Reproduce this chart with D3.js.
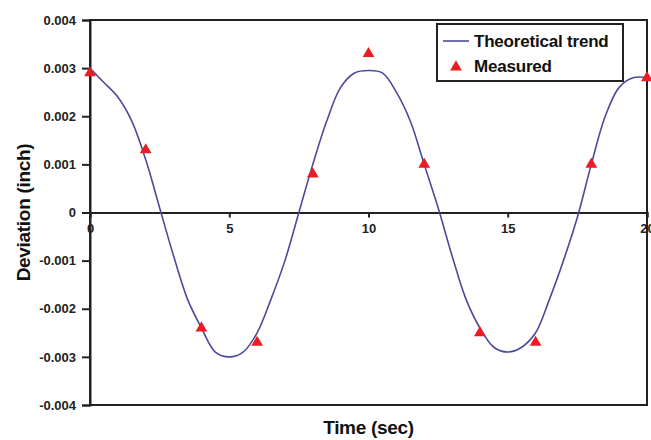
<!DOCTYPE html>
<html>
<head>
<meta charset="utf-8">
<script src="https://cdn.jsdelivr.net/npm/d3@7"></script>
<style>
  body { margin: 0; background: #fff; }
  svg { display: block; font-family: "Liberation Sans", Arial, sans-serif; }
</style>
</head>
<body>
<svg id="chart" width="651" height="440"></svg>
<script>
// theoretical trend, every 0.5 s
const trendTime = [0, 0.5, 1, 1.5, 2, 2.5, 3, 3.5, 4, 4.5, 5, 5.5, 6, 6.5, 7, 7.5, 8, 8.5, 9, 9.5, 10,
  10.5, 11, 11.5, 12, 12.5, 13, 13.5, 14, 14.5, 15, 15.5, 16, 16.5, 17, 17.5, 18, 18.5, 19, 19.5, 20];
const trendValue = [0.0030, 0.0027, 0.0024, 0.0019, 0.0011, 0.0001, -0.0009, -0.0018, -0.0024, -0.0029, -0.0030,
  -0.0029, -0.0025, -0.0018, -0.0010, 0.0000, 0.0010, 0.0019, 0.0026, 0.0029, 0.00295,
  0.0029, 0.0025, 0.0019, 0.0010, 0.0001, -0.0009, -0.0018, -0.0024, -0.0028, -0.0029,
  -0.0028, -0.0025, -0.0018, -0.0010, -0.0001, 0.0010, 0.0020, 0.0026, 0.0028, 0.0028];

// measured points
const measuredTime = [0, 2, 4, 6, 8, 10, 12, 14, 16, 18, 20];
const measuredValue = [0.0029, 0.0013, -0.0024, -0.0027, 0.0008, 0.0033, 0.0010, -0.0025, -0.0027, 0.0010, 0.0028];

const xTicks = [0, 5, 10, 15, 20];
const yTicks = [-0.004, -0.003, -0.002, -0.001, 0, 0.001, 0.002, 0.003, 0.004];
const legendLabels = ["Theoretical trend", "Measured"];

const margin = {left: 90, right: 4, top: 20, bottom: 35};
const width = 651, height = 440;

const svg = d3.select("#chart");

const x = d3.scaleLinear([0, 20], [margin.left, width - margin.right]);
const y = d3.scaleLinear([-0.004, 0.004], [height - margin.bottom, margin.top]);

const axisColor = "#222";
const lineColor = "#4b4b9c";
const markColor = "#ec1c24";

// frame: top, right, bottom
svg.append("rect")
  .attr("x", x(0)).attr("y", y(0.004))
  .attr("width", x(20) - x(0)).attr("height", y(-0.004) - y(0.004))
  .attr("fill", "none").attr("stroke", axisColor).attr("stroke-width", 2);

// y axis
const yAxis = svg.append("g")
  .attr("transform", `translate(${x(0)},0)`)
  .call(d3.axisLeft(y).tickValues(yTicks).tickSize(8).tickPadding(6)
    .tickFormat(d => d === 0 ? "0" : d3.format(".3f")(d).replace("−", "-")));
yAxis.select(".domain").attr("stroke", axisColor).attr("stroke-width", 2);
yAxis.selectAll(".tick line").attr("stroke", axisColor).attr("stroke-width", 2);
yAxis.selectAll(".tick text")
  .attr("font-size", 13).attr("font-weight", "bold").attr("fill", "#222");

// x axis on the zero line
const xAxis = svg.append("g")
  .attr("transform", `translate(0,${y(0)})`)
  .call(d3.axisBottom(x).tickValues(xTicks).tickSize(5).tickPadding(6));
xAxis.select(".domain").attr("stroke", axisColor).attr("stroke-width", 2);
xAxis.selectAll(".tick line").attr("stroke", axisColor).attr("stroke-width", 2);
xAxis.selectAll(".tick text")
  .attr("font-size", 13).attr("font-weight", "bold").attr("fill", "#222");

// trend line
const trend = trendTime.map((t, i) => [t, trendValue[i]]);
const line = d3.line()
  .curve(d3.curveCatmullRom)
  .x(d => x(d[0]))
  .y(d => y(d[1]));

svg.append("path")
  .attr("d", line(trend))
  .attr("fill", "none")
  .attr("stroke", lineColor)
  .attr("stroke-width", 1.6);

// measured triangles
const tri = d3.symbol().type(d3.symbolTriangle).size(60);
svg.append("g")
  .selectAll("path")
  .data(measuredTime.map((t, i) => [t, measuredValue[i]]))
  .join("path")
  .attr("d", tri)
  .attr("transform", d => `translate(${x(d[0])},${y(d[1])})`)
  .attr("fill", markColor);

// axis titles
svg.append("text")
  .attr("transform", `translate(30,${(y(0.004) + y(-0.004)) / 2}) rotate(-90)`)
  .attr("text-anchor", "middle")
  .attr("font-size", 19).attr("font-weight", "bold").attr("fill", "#111")
  .attr("letter-spacing", -0.3)
  .text("Deviation (inch)");

svg.append("text")
  .attr("x", (x(0) + x(20)) / 2)
  .attr("y", 434)
  .attr("text-anchor", "middle")
  .attr("font-size", 19).attr("font-weight", "bold").attr("fill", "#111")
  .attr("letter-spacing", -0.3)
  .text("Time (sec)");

// legend
const legend = svg.append("g").attr("transform", "translate(437,24)");
legend.append("rect")
  .attr("width", 186).attr("height", 57)
  .attr("fill", "#fff").attr("stroke", axisColor).attr("stroke-width", 2);
legend.append("line")
  .attr("x1", 6).attr("x2", 32).attr("y1", 17).attr("y2", 17)
  .attr("stroke", lineColor).attr("stroke-width", 1.6);
legend.append("path")
  .attr("d", tri)
  .attr("transform", "translate(19,43)")
  .attr("fill", markColor);
legend.selectAll("text.lbl")
  .data(legendLabels)
  .join("text")
  .attr("class", "lbl")
  .attr("x", 37)
  .attr("y", (d, i) => 23 + i * 25)
  .attr("font-size", 17).attr("font-weight", "bold").attr("fill", "#111")
  .attr("letter-spacing", -0.2)
  .text(d => d);
</script>
</body>
</html>
